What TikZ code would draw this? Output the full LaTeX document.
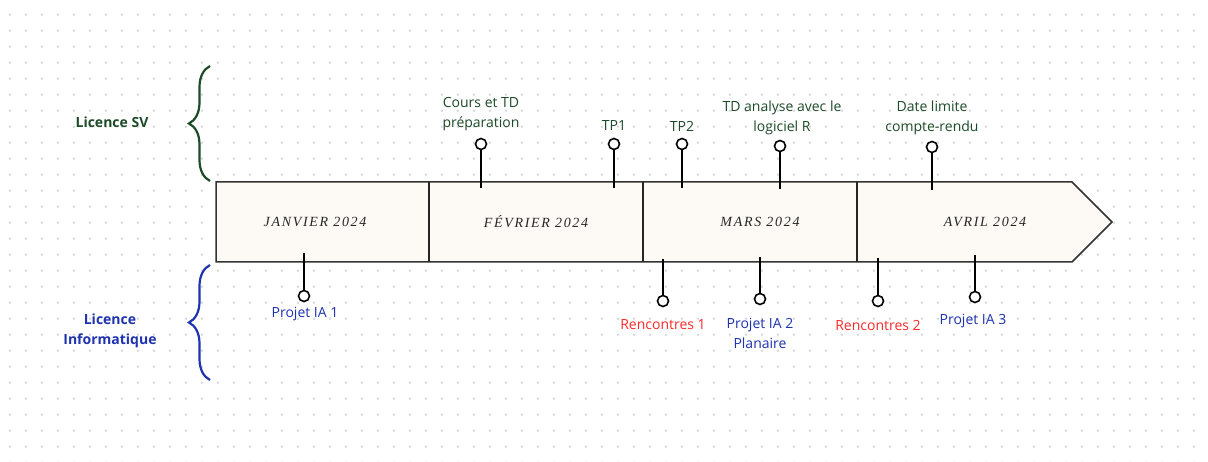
\documentclass[tikz,border=0pt]{standalone}
\usepackage{fontspec}
\setmainfont{Open Sans}
\newfontfamily\monthfont[LetterSpace=12]{Liberation Serif}
\usetikzlibrary{decorations.pathreplacing}
\definecolor{svgreen}{HTML}{1D4A27}
\definecolor{infoblue}{HTML}{1F33B0}
\definecolor{meetred}{HTML}{FF2A2A}
\definecolor{bandfill}{HTML}{FDF9F5}
\definecolor{dotgray}{HTML}{D5D9DF}

\begin{document}
\begin{tikzpicture}[x=1pt,y=-1pt,
    evt/.style={circle,draw,fill=white,line width=1.6pt,minimum size=11pt,inner sep=0pt},
    stem/.style={line width=1.8pt},
    txt/.style={font=\fontsize{14}{20}\selectfont,align=center},
    sv/.style={txt,text=svgreen},
    info/.style={txt,text=infoblue},
    meet/.style={txt,text=meetred},
    month/.style={font=\monthfont\itshape\fontsize{14}{14}\selectfont,text=black!85},
    divider/.style={line width=2.4pt,draw=black!85}]
    \useasboundingbox[fill=white] (0,0) rectangle (1208,462);
    % background dots
    \foreach \i in {0,...,75}
        \foreach \j in {0,...,28}
            \fill[dotgray] (10+16*\i,14.7+16*\j) circle (1.4);
    % band
    \draw[fill=bandfill,draw=black!80,line width=1.5pt] (216,182) -- (1072,182) -- (1112,222) -- (1072,262) -- (216,262) -- cycle;
    \draw[divider] (429,182) -- (429,262);
    \draw[divider] (643,182) -- (643,262);
    \draw[divider] (857,182) -- (857,262);
    \node[month] (jan) at (315,222) {JANVIER 2024};
    \node[month] (feb) at (536,222) {FÉVRIER 2024};
    \node[month] (mar) at (760,222) {MARS 2024};
    \node[month] (apr) at (985,222) {AVRIL 2024};
    % braces
    \draw[svgreen,line width=2.2pt,decorate,decoration={brace,amplitude=21pt}] (210,181) -- (210,66);
    \draw[infoblue,line width=2.2pt,decorate,decoration={brace,amplitude=21pt}] (210,380) -- (210,265);
    \node[txt,text=svgreen,font=\fontsize{14}{20}\selectfont\bfseries] (sv) at (112,122) {Licence SV};
    \node[txt,text=infoblue,font=\fontsize{14}{20}\selectfont\bfseries] (info) at (110,331) {Licence\\Informatique};
    % Licence SV events
    \coordinate (c1) at (481,188);
    \coordinate (c2) at (614,188);
    \coordinate (c3) at (682,188);
    \coordinate (c4) at (780,189);
    \coordinate (c5) at (932,190);
    \node[evt] (e1) at (481,144) {};
    \node[evt] (e2) at (614,144) {};
    \node[evt] (e3) at (682,144) {};
    \node[evt] (e4) at (780,146) {};
    \node[evt] (e5) at (932,147) {};
    \draw[stem] (e1)--(c1);
    \draw[stem] (e2)--(c2);
    \draw[stem] (e3)--(c3);
    \draw[stem] (e4)--(c4);
    \draw[stem] (e5)--(c5);
    \node[sv] (l1) at (481,114) {Cours et TD\\préparation};
    \node[sv] (l2) at (614,126) {TP1};
    \node[sv] (l3) at (682,126) {TP2};
    \node[sv] (l4) at (782,118) {TD analyse avec le\\logiciel R};
    \node[sv] (l5) at (932,118) {Date limite\\compte-rendu};
    % Licence Informatique events
    \coordinate (d1) at (304,253);
    \coordinate (d2) at (663,259);
    \coordinate (d3) at (760,257);
    \coordinate (d4) at (878,258);
    \coordinate (d5) at (975,255);
    \node[evt] (f1) at (304,296) {};
    \node[evt] (f2) at (663,301) {};
    \node[evt] (f3) at (760,299) {};
    \node[evt] (f4) at (878,301) {};
    \node[evt] (f5) at (975,297) {};
    \draw[stem] (d1)--(f1);
    \draw[stem] (d2)--(f2);
    \draw[stem] (d3)--(f3);
    \draw[stem] (d4)--(f4);
    \draw[stem] (d5)--(f5);
    \node[info] (m1) at (305,314) {Projet IA 1};
    \node[meet] (m2) at (663,325) {Rencontres 1};
    \node[info] (m3) at (760,333) {Projet IA 2\\Planaire};
    \node[meet] (m4) at (878,325) {Rencontres 2};
    \node[info] (m5) at (973,321) {Projet IA 3};
\end{tikzpicture}
\end{document}
